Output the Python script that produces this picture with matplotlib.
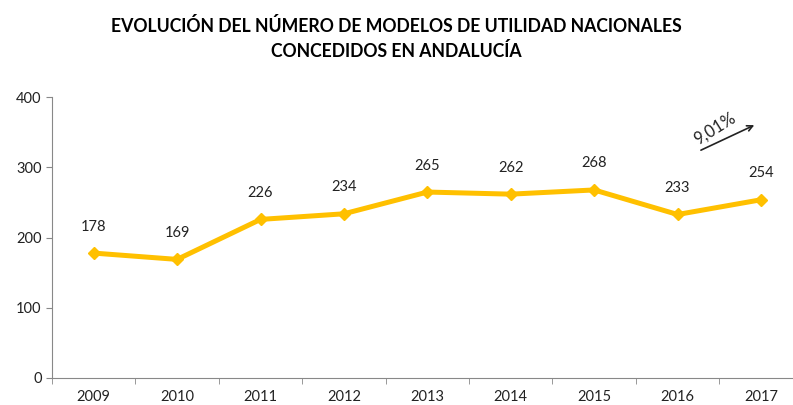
import numpy as np
import matplotlib.pyplot as plt

years = ["2009", "2010", "2011", "2012", "2013", "2014", "2015", "2016", "2017"]
values = [178, 169, 226, 234, 265, 262, 268, 233, 254]
growth = "9,01%"

plt.rcParams['font.family'] = ['Lato', 'DejaVu Sans']

fig = plt.figure(figsize=(7.93, 4.05), dpi=100)
ax = fig.add_axes([0.0656, 0.0667, 0.9466, 0.693])

x = np.arange(len(years))
ax.plot(x, values, color='#FFC000', lw=3.6, marker='D', ms=6, solid_joinstyle='round')
for xi, v in zip(x, values):
    ax.annotate(str(v), (xi, v), xytext=(0, 14), textcoords='offset points',
                ha='center', va='bottom', fontsize=10.5, color='#222222')

ax.set_xlim(-0.5, len(years) - 0.5)
ax.set_ylim(0, 400)
ax.set_yticks([0, 100, 200, 300, 400])
ax.set_xticks(x)
ax.set_xticklabels(years)
ax.set_xticks(np.arange(len(years) + 1) - 0.5, minor=True)
ax.tick_params(axis='both', labelsize=10.5, colors='#222222', length=4, color='#888888')
ax.tick_params(axis='x', which='major', length=0, pad=9)
ax.tick_params(axis='x', which='minor', length=4, color='#888888')
for s in ['top', 'right']:
    ax.spines[s].set_visible(False)
for s in ['left', 'bottom']:
    ax.spines[s].set_color('#888888')

ax.annotate('', xy=(7.95, 362), xytext=(7.25, 323),
            arrowprops=dict(arrowstyle='->', color='#222222', lw=1.2))
ax.text(7.45, 355, growth, rotation=32, ha='center', va='center', fontsize=12, color='#222222')

fig.text(0.5, 0.905, "EVOLUCIÓN DEL NÚMERO DE MODELOS DE UTILIDAD NACIONALES\nCONCEDIDOS EN ANDALUCÍA",
         ha='center', va='center', fontsize=12.7, fontweight='bold', linespacing=1.45)

fig.savefig('out.png', dpi=100)
